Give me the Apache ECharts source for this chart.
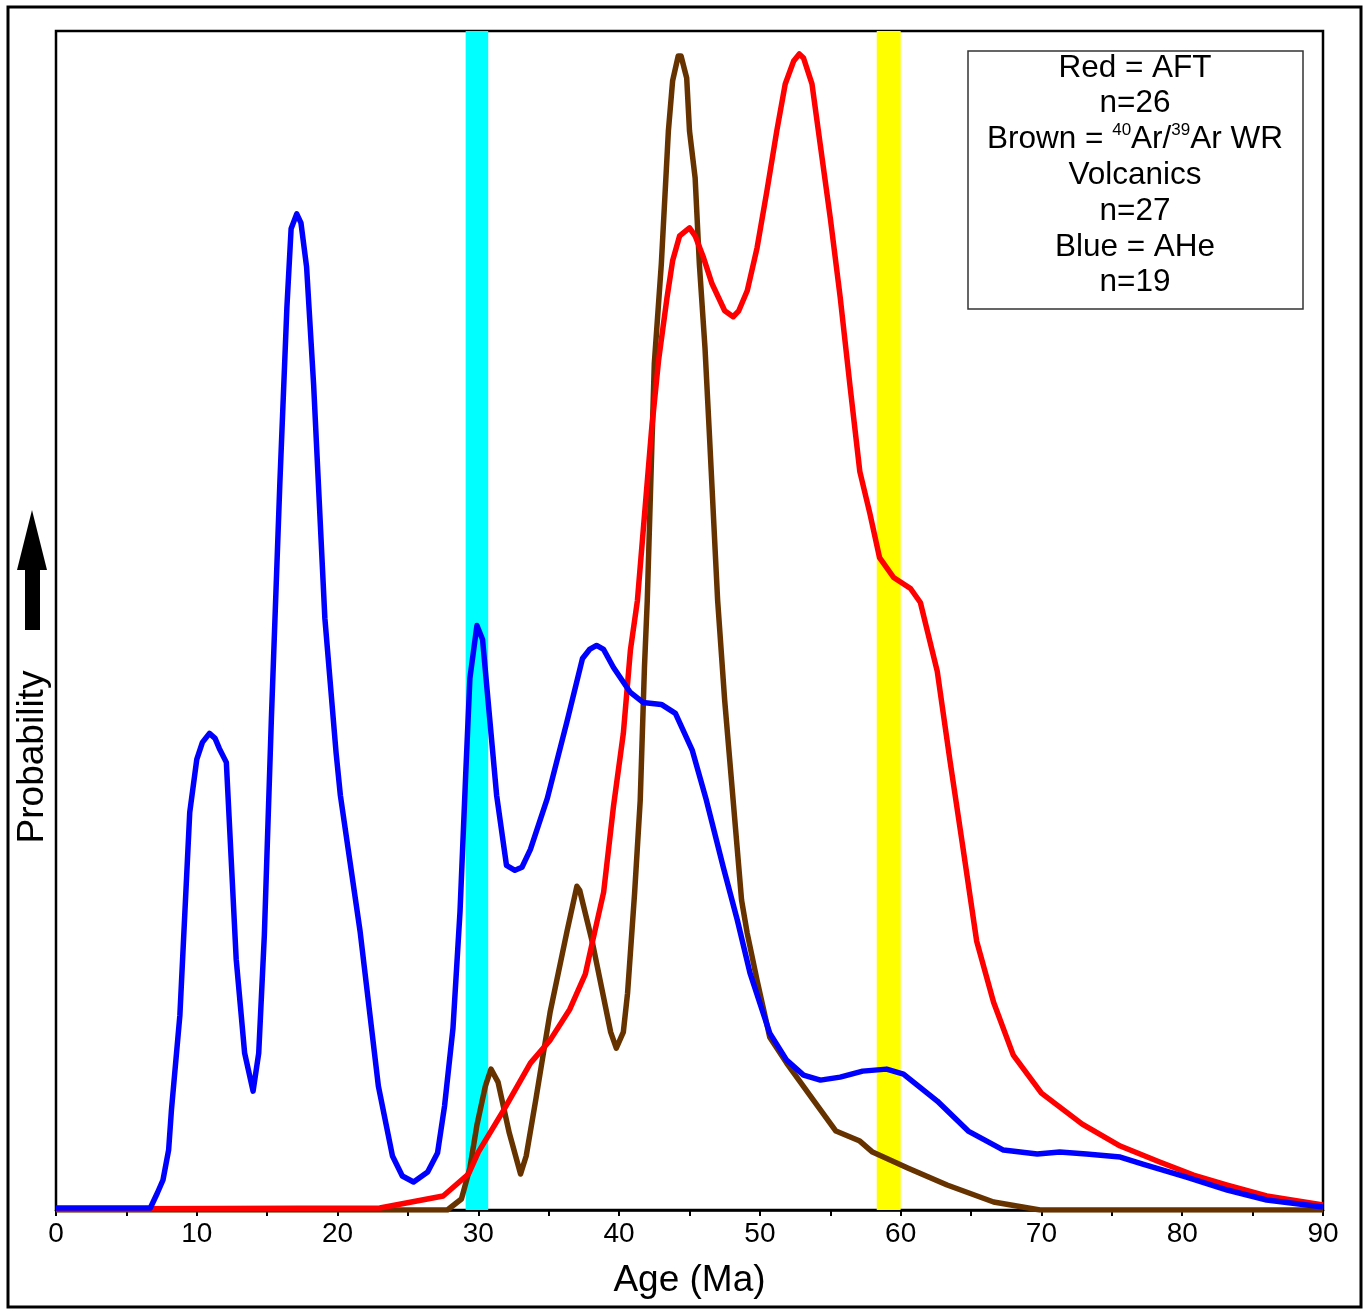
<!DOCTYPE html>
<html>
<head>
<meta charset="utf-8">
<script src="https://cdn.jsdelivr.net/npm/echarts@6/dist/echarts.min.js"></script>
<style>
html,body{margin:0;padding:0;background:#fff;}
#chart{width:1366px;height:1309px;}
</style>
</head>
<body>
<div id="chart"></div>
<script>
// Age axis ticks (Ma)
const xTicks = [0, 10, 20, 30, 40, 50, 60, 70, 80, 90];

// Blue = AHe (age Ma, relative probability)
const ageAHe = [0, 6.7, 7.2, 7.6, 8.0, 8.2, 8.8, 9.5, 10.0, 10.4, 10.9, 11.3, 11.6, 12.1, 12.8, 13.4, 14.0, 14.4, 14.8, 15.3, 15.9, 16.4, 16.7, 17.1, 17.4, 17.8, 18.3, 19.1, 19.9, 20.2, 21.6, 22.9, 23.9, 24.6, 25.4, 26.4, 27.1, 27.6, 28.2, 28.7, 29.1, 29.4, 29.9, 30.3, 30.8, 31.3, 32.0, 32.6, 33.1, 33.7, 34.9, 36.3, 37.4, 37.9, 38.4, 38.9, 39.6, 40.8, 41.7, 43.0, 44.0, 45.2, 46.2, 47.4, 48.4, 49.3, 50.7, 51.9, 53.1, 54.3, 55.7, 57.3, 59.0, 60.2, 62.6, 64.8, 67.3, 69.7, 71.3, 73.2, 75.6, 77.2, 80.3, 83.2, 86.0, 90];
const probAHe = [2, 2, 17, 30, 60, 100, 195, 398, 451, 468, 477, 472, 462, 448, 251, 157, 119, 157, 275, 492, 727, 903, 982, 997, 988, 944, 826, 592, 457, 415, 279, 124, 54, 34, 28, 38, 57, 104, 182, 299, 435, 532, 585, 571, 493, 415, 345, 340, 343, 361, 412, 489, 552, 561, 565, 561, 543, 518, 508, 506, 497, 460, 410, 343, 290, 237, 177, 150, 135, 130, 133, 139, 141, 136, 109, 79, 60, 56, 58, 56, 53, 46, 33, 20, 10, 3];

// Red = AFT
const ageAFT = [0, 23.0, 27.5, 29.3, 30.0, 31.8, 33.7, 35.1, 36.5, 37.6, 38.1, 38.9, 39.6, 40.3, 40.8, 41.3, 42.3, 42.8, 43.4, 43.8, 44.3, 45.0, 45.4, 46.0, 46.6, 47.5, 48.1, 48.5, 49.1, 49.8, 50.5, 51.2, 51.8, 52.4, 52.8, 53.1, 53.7, 54.3, 55.0, 55.7, 56.4, 57.1, 57.8, 58.5, 59.5, 60.7, 61.4, 62.6, 63.5, 64.4, 65.4, 66.6, 68.0, 70.0, 72.9, 75.6, 78.4, 80.8, 83.2, 86.0, 90];
const probAFT = [1, 2, 14, 36, 58, 100, 147, 170, 201, 236, 268, 318, 404, 477, 560, 610, 780, 850, 913, 950, 975, 983, 975, 953, 927, 900, 894, 900, 920, 963, 1020, 1080, 1127, 1150, 1157, 1153, 1127, 1065, 993, 914, 825, 739, 698, 653, 633, 622, 608, 539, 450, 365, 269, 208, 155, 117, 86, 64, 48, 35, 25, 14, 5];

// Brown = 40Ar/39Ar WR volcanics
const ageAr = [0, 27.8, 28.8, 29.4, 29.9, 30.5, 30.9, 31.4, 32.2, 33.0, 33.4, 34.1, 35.1, 36.3, 37.0, 37.2, 38.1, 39.4, 39.8, 40.3, 40.6, 41.1, 41.5, 41.8, 42.0, 42.5, 43.0, 43.5, 43.8, 44.2, 44.4, 44.8, 45.0, 45.4, 45.7, 46.1, 46.4, 47.0, 47.5, 48.1, 48.7, 49.1, 49.8, 50.7, 51.9, 53.8, 55.4, 57.1, 58.0, 60.5, 63.3, 66.6, 69.9, 90];
const probAr = [0, 0, 11, 42, 85, 124, 141, 128, 77, 36, 54, 112, 198, 279, 324, 320, 268, 178, 162, 178, 217, 317, 410, 543, 610, 847, 947, 1080, 1130, 1155, 1155, 1133, 1080, 1033, 947, 863, 780, 610, 510, 410, 310, 277, 230, 173, 147, 110, 79, 69, 58, 42, 25, 8, 0, 0];

// Highlighted age bands (Ma)
const bandCyan = [29.1, 30.7];
const bandYellow = [58.3, 60.0];

// Legend lines
const legendLines = ['Red = AFT', 'n=26', '{n|Brown = }{s|40}{n|Ar/}{s|39}{n|Ar WR}', 'Volcanics', 'n=27', 'Blue = AHe', 'n=19'];

function pairs(xs, ys) { return xs.map((x, i) => [x, ys[i]]); }

const chart = echarts.init(document.getElementById('chart'), null, {renderer: 'canvas'});
const FONT = 'Liberation Sans, Arial, sans-serif';

const legendGraphics = legendLines.map((t, i) => ({
  type: 'text', x: 1135, y: 68 + i * 35.8, z: 20,
  style: {
    text: t, align: 'center', verticalAlign: 'middle',
    fontFamily: FONT, fontSize: 31.5, fill: '#000',
    rich: {
      n: {fontFamily: FONT, fontSize: 31.5, color: '#000', lineHeight: 36},
      s: {fontFamily: FONT, fontSize: 17, color: '#000', verticalAlign: 'top', lineHeight: 24}
    }
  }
}));

chart.setOption({
  animation: false,
  backgroundColor: '#fff',
  grid: {left: 56, top: 31, right: 43, bottom: 99, show: true, borderColor: '#000', borderWidth: 2.5, backgroundColor: 'transparent'},
  xAxis: {
    type: 'value', min: xTicks[0], max: xTicks[xTicks.length - 1], interval: 10,
    name: 'Age (Ma)', nameLocation: 'middle', nameGap: 52,
    nameTextStyle: {fontFamily: FONT, fontSize: 37, color: '#000'},
    axisLine: {show: true, lineStyle: {color: '#000', width: 2.5}},
    axisTick: {show: true, inside: false, length: 6, lineStyle: {color: '#000', width: 2}},
    minorTick: {show: true, splitNumber: 2, length: 6, lineStyle: {color: '#000', width: 2}},
    axisLabel: {fontFamily: FONT, fontSize: 28, color: '#000', margin: 10},
    splitLine: {show: false}
  },
  yAxis: {type: 'value', min: 0, max: 1180, show: false, splitLine: {show: false}},
  series: [
    {
      type: 'line', data: [], z: 1, silent: true,
      markArea: {
        silent: true,
        itemStyle: {opacity: 1},
        data: [
          [{xAxis: bandCyan[0], itemStyle: {color: '#00FFFF'}}, {xAxis: bandCyan[1]}],
          [{xAxis: bandYellow[0], itemStyle: {color: '#FFFF00'}}, {xAxis: bandYellow[1]}]
        ]
      }
    },
    {type: 'line', name: 'Ar/Ar', data: pairs(ageAr, probAr), showSymbol: false, z: 3,
      lineStyle: {color: '#663300', width: 5.5, join: 'round'}},
    {type: 'line', name: 'AFT', data: pairs(ageAFT, probAFT), showSymbol: false, z: 4,
      lineStyle: {color: '#FF0000', width: 5.5, join: 'round'}},
    {type: 'line', name: 'AHe', data: pairs(ageAHe, probAHe), showSymbol: false, z: 5,
      lineStyle: {color: '#0000FF', width: 5.5, join: 'round'}}
  ],
  graphic: [
    {type: 'rect', shape: {x: 8, y: 7, width: 1353, height: 1300}, style: {fill: 'none', stroke: '#000', lineWidth: 3}, z: 0, silent: true},
    {type: 'polygon', shape: {points: [[32, 510], [17, 570], [47, 570]]}, style: {fill: '#000'}},
    {type: 'rect', shape: {x: 25, y: 566, width: 15, height: 64}, style: {fill: '#000'}},
    {type: 'text', x: 33, y: 757, rotation: Math.PI / 2,
      style: {text: 'Probability', font: '37px ' + FONT, fill: '#000', align: 'center', verticalAlign: 'middle'}},
    {type: 'rect', shape: {x: 968, y: 51, width: 335, height: 258}, style: {fill: '#fff', stroke: '#333', lineWidth: 1.5}, z: 10}
  ].concat(legendGraphics)
});
</script>
</body>
</html>
